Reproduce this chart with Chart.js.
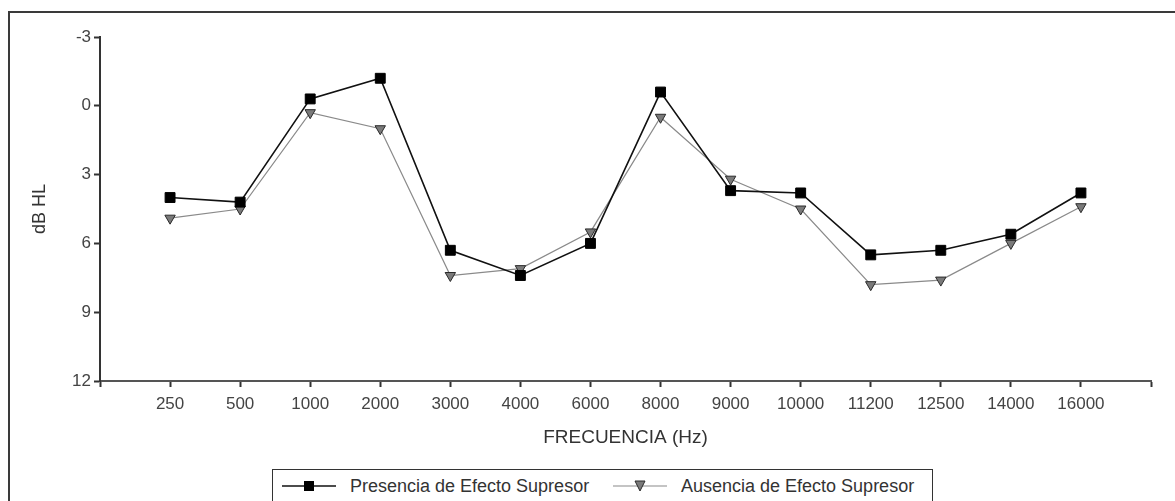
<!DOCTYPE html>
<html>
<head>
<meta charset="utf-8">
<script src="https://cdn.jsdelivr.net/npm/chart.js@4/dist/chart.umd.min.js"></script>
<style>
    body { margin: 0; background: #fff; font-family: "Liberation Sans", Arial, sans-serif; }
    #wrap { position: relative; width: 1175px; height: 501px; overflow: hidden; }
    #frame { position: absolute; left: 8px; top: 11px; width: 2000px; height: 1000px; border: 2px solid #3a3a3a; }
    #legend { position: absolute; left: 272px; top: 469px; width: 659px; height: 60px; border: 1.5px solid #333; background: #fff; }
    .item { position: absolute; top: 5px; height: 22px; display: flex; align-items: center; font-size: 18px; color: #333; }
    .item svg { margin-right: 14px; }
</style>
</head>
<body>
<div id="wrap">
    <div id="frame"></div>
    <canvas id="audioChart"></canvas>
    <div id="legend"></div>
</div>
<script>
// frequencies (Hz)
const categories = ['250', '500', '1000', '2000', '3000', '4000', '6000', '8000', '9000', '10000', '11200', '12500', '14000', '16000'];
// dB HL
const presencia = [4.0, 4.2, -0.3, -1.2, 6.3, 7.4, 6.0, -0.6, 3.7, 3.8, 6.5, 6.3, 5.6, 3.8];
const ausencia  = [4.9, 4.5, 0.3, 1.0, 7.4, 7.1, 5.5, 0.5, 3.2, 4.5, 7.8, 7.6, 6.0, 4.4];
const yTicks = [-3, 0, 3, 6, 9, 12];
const seriesNames = ['Presencia de Efecto Supresor', 'Ausencia de Efecto Supresor'];

const toPoints = arr => arr.map((v, i) => ({ x: i + 1, y: v }));

const ctx = document.getElementById('audioChart');
ctx.width = 1175;
ctx.height = 501;

const tickFont = { family: '"Liberation Sans", Arial, sans-serif', size: 17 };

const chart = new Chart(ctx, {
    type: 'line',
    data: {
        datasets: [{
            label: seriesNames[0],
            data: toPoints(presencia),
            borderColor: '#111',
            borderWidth: 1.6,
            pointStyle: 'rect',
            pointRadius: 7,
            pointBackgroundColor: '#000',
            pointBorderColor: '#000',
            pointBorderWidth: 1,
            tension: 0,
        }, {
            label: seriesNames[1],
            data: toPoints(ausencia),
            borderColor: '#8a8a8a',
            borderWidth: 1.2,
            pointStyle: 'triangle',
            pointRotation: 180,
            pointRadius: 6,
            pointBackgroundColor: '#7a7a7a',
            pointBorderColor: '#2a2a2a',
            pointBorderWidth: 1,
            tension: 0,
        }],
    },
    options: {
        responsive: false,
        animation: false,
        layout: { padding: { top: 37, right: 24, bottom: 0, left: 0 } },
        plugins: { legend: { display: false }, tooltip: { enabled: false } },
        scales: {
            x: {
                type: 'linear',
                min: 0,
                max: 15,
                afterFit: s => { s.height = 120; },
                afterBuildTicks: s => { s.ticks = Array.from({ length: 16 }, (_, i) => ({ value: i })); },
                border: { color: '#555', width: 2 },
                grid: { drawOnChartArea: false, tickLength: 6, tickColor: '#333', tickWidth: 2 },
                ticks: {
                    autoSkip: false,
                    maxRotation: 0,
                    padding: 7,
                    color: '#444',
                    font: tickFont,
                    callback: v => categories[v - 1] || '',
                },
                title: {
                    display: true,
                    text: 'FRECUENCIA (Hz)',
                    color: '#333',
                    font: { family: tickFont.family, size: 19 },
                    padding: { top: 0, bottom: 52 },
                },
            },
            y: {
                min: -3,
                max: 12,
                reverse: true,
                afterFit: s => { s.width = 100; },
                afterBuildTicks: s => { s.ticks = yTicks.map(v => ({ value: v })); },
                border: { color: '#333', width: 2 },
                grid: { drawOnChartArea: false, tickLength: 6, tickColor: '#333', tickWidth: 2 },
                ticks: { padding: 3, color: '#444', font: tickFont },
                title: {
                    display: true,
                    text: 'dB HL',
                    color: '#333',
                    font: { family: tickFont.family, size: 18 },
                    padding: { top: 29, bottom: 0 },
                },
            },
        },
    },
});

// boxed legend under the plot
const legend = document.getElementById('legend');
const icons = [
    '<svg width="54" height="14"><line x1="0" y1="7" x2="54" y2="7" stroke="#111" stroke-width="1.6"/><rect x="22" y="2" width="10" height="10" fill="#000"/></svg>',
    '<svg width="54" height="14"><line x1="0" y1="7" x2="54" y2="7" stroke="#8a8a8a" stroke-width="1.2"/><polygon points="22,2 32,2 27,12" fill="#7a7a7a" stroke="#2a2a2a" stroke-width="1"/></svg>',
];
const itemLeft = [9, 340];
chart.data.datasets.forEach((ds, i) => {
    const el = document.createElement('div');
    el.className = 'item';
    el.style.left = itemLeft[i] + 'px';
    el.innerHTML = icons[i] + '<span>' + ds.label + '</span>';
    legend.appendChild(el);
});
</script>
</body>
</html>
